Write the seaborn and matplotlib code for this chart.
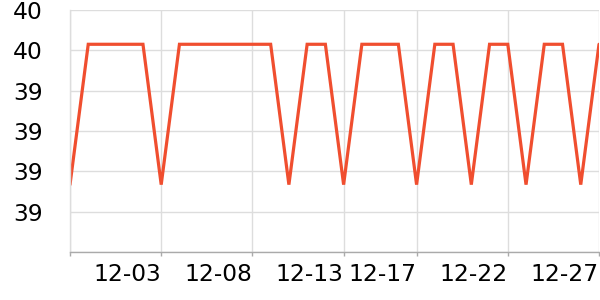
import matplotlib
matplotlib.use("Agg")
import matplotlib.pyplot as plt
import seaborn as sns
import pandas as pd

dates = ["11-28", "11-29", "11-30", "12-01", "12-02", "12-03", "12-04", "12-05",
         "12-06", "12-07", "12-08", "12-09", "12-10", "12-11", "12-12", "12-13",
         "12-14", "12-15", "12-16", "12-17", "12-18", "12-19", "12-20", "12-21",
         "12-22", "12-23", "12-24", "12-25", "12-26", "12-27"]
values = [39.167, 39.515, 39.515, 39.515, 39.515, 39.167, 39.515, 39.515,
          39.515, 39.515, 39.515, 39.515, 39.167, 39.515, 39.515, 39.167,
          39.515, 39.515, 39.515, 39.167, 39.515, 39.515, 39.167, 39.515,
          39.515, 39.167, 39.515, 39.515, 39.167, 39.515]
x_tick_labels = ["", "12-03", "12-08", "12-13", "12-17", "12-22", "12-27"]
y_tick_values = [39.0, 39.1, 39.2, 39.3, 39.4, 39.5, 39.6]
y_tick_labels = ["", "39", "39", "39", "39", "40", "40"]

sns.set_style("white")
plt.rcParams['font.family'] = ['DejaVu Sans']

df = pd.DataFrame({"idx": range(len(dates)), "date": dates, "value": values})

fig = plt.figure(figsize=(6, 3), dpi=100)
ax = fig.add_axes([70 / 600, 48 / 300, 529 / 600, 242 / 300])

sns.lineplot(data=df, x="idx", y="value", ax=ax, color="#f04e2f",
             linewidth=2.3, solid_joinstyle="miter")

ax.set_xlim(0, len(dates) - 1)
ax.set_ylim(y_tick_values[0], y_tick_values[-1])

tick_pos = [dates.index(d) if d else 0 for d in x_tick_labels]
ax.set_xticks(tick_pos)
ax.set_xticklabels(x_tick_labels, ha="right", fontsize=16.8, color="black")
ax.set_yticks(y_tick_values)
ax.set_yticklabels(y_tick_labels, fontsize=16.8, color="black")

ax.grid(True, color="#dddddd", linewidth=1)
ax.set_axisbelow(True)
for s in ["top", "right"]:
    ax.spines[s].set_visible(False)
ax.spines["left"].set_color("#dddddd")
ax.spines["left"].set_linewidth(1)
ax.spines["bottom"].set_color("#aaaaaa")
ax.spines["bottom"].set_linewidth(1)
ax.tick_params(axis="x", length=3, width=1, color="#aaaaaa", pad=5, direction="out", bottom=True)
ax.tick_params(axis="y", length=0, pad=19.5)
ax.set_xlabel("")
ax.set_ylabel("")

fig.savefig("out.png", dpi=100)
